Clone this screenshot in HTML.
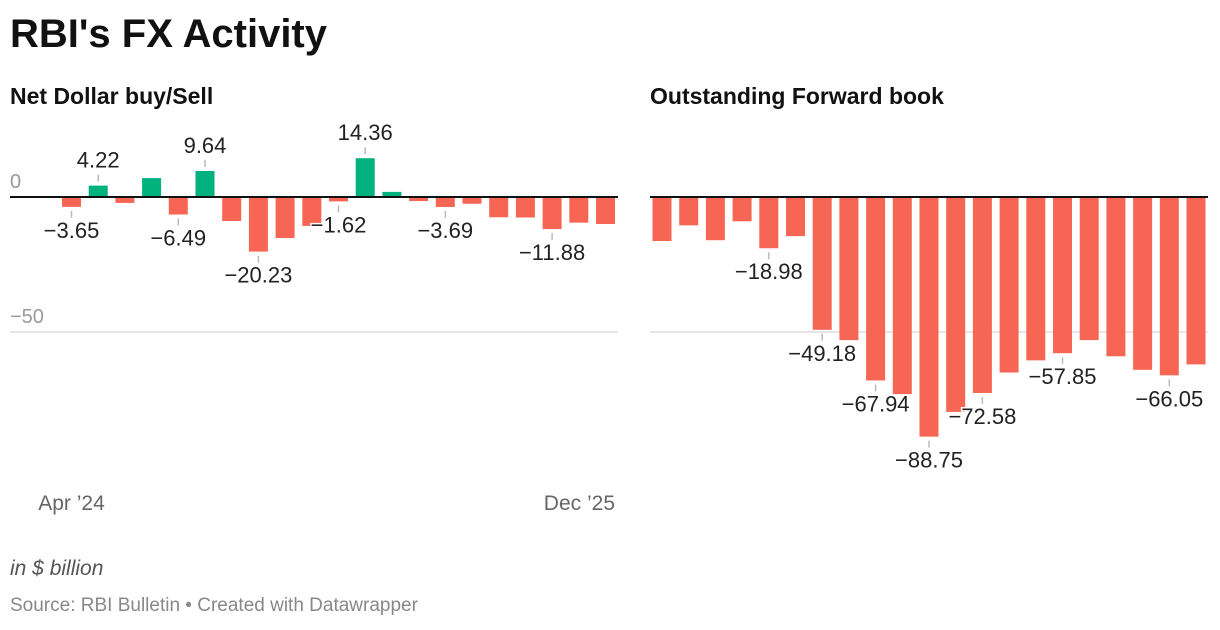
<!DOCTYPE html>
<html><head><meta charset="utf-8"><style>
body{margin:0;width:1220px;height:630px;background:#fff;font-family:"Liberation Sans",sans-serif;overflow:hidden;position:relative}
.t{position:absolute;margin:0}
</style></head><body>
<h1 class="t" style="left:10px;top:12px;font-size:40px;font-weight:bold;color:#111">RBI's FX Activity</h1>
<div class="t" style="left:10px;top:83px;font-size:23px;font-weight:bold;color:#111">Net Dollar buy/Sell</div>
<div class="t" style="left:650px;top:83px;font-size:23px;font-weight:bold;color:#111">Outstanding Forward book</div>
<div class="t" style="left:10px;top:557px;font-size:21px;font-style:italic;color:#555">in $ billion</div>
<div class="t" style="left:10px;top:595px;font-size:19px;color:#888">Source: RBI Bulletin • Created with Datawrapper</div>
<svg id="c" width="1220" height="630" style="position:absolute;left:0;top:0"></svg>
<script>
const months=["Apr '24","May '24","Jun '24","Jul '24","Aug '24","Sep '24","Oct '24","Nov '24","Dec '24","Jan '25","Feb '25","Mar '25","Apr '25","May '25","Jun '25","Jul '25","Aug '25","Sep '25","Oct '25","Nov '25","Dec '25"];
const netValues=[-3.65,4.22,-2.2,7.0,-6.49,9.64,-8.9,-20.23,-15.2,-10.7,-1.62,14.36,1.9,-1.5,-3.69,-2.5,-7.5,-7.6,-11.88,-9.5,-10];
const netLabeled=[0,1,4,5,7,10,11,14,18];
const fwdValues=[-16.3,-10.5,-16,-9,-18.98,-14.5,-49.18,-53,-67.94,-73,-88.75,-79.6,-72.58,-65,-60.5,-57.85,-53,-59,-64,-66.05,-62];
const fwdLabeled=[4,6,8,10,12,15,19];
const yTicks=[0,-50];
const xLabels=["Apr ’24","Dec ’25"];
const svg=document.getElementById('c');const NS='http://www.w3.org/2000/svg';
function mk(t,a,p){const e=document.createElementNS(NS,t);for(const k in a)e.setAttribute(k,a[k]);(p||svg).appendChild(e);return e;}
const y=v=>197-v*2.7;
function panel(x0,x1,c0,c1,vals,labeled,name,axisLabels){
  const n=vals.length,step=(c1-c0)/(n-1),bw=19;
  const xc=i=>c0+step*i;
  yTicks.forEach(t=>{if(t!==0){const l=mk('line',{x1:x0,x2:x1,y1:y(t),y2:y(t),stroke:'#ddd','stroke-width':1.5});
  
  }
  if(axisLabels){const tx=mk('text',{x:x0,y:y(t)-9,'font-size':20,fill:'#999'});tx.textContent=t===0?'0':'−'+Math.abs(t);
  
  }});
  vals.forEach((v,i)=>{const r=mk('rect',{x:xc(i)-bw/2,width:bw,y:Math.min(y(v),y(0)),height:Math.abs(y(v)-y(0)),fill:v>=0?'#01b27f':'#f76655'});
  
  });
  const z=mk('line',{x1:x0,x2:x1,y1:y(0),y2:y(0),stroke:'#111','stroke-width':2});
  
  
  labeled.forEach(i=>{const v=vals[i],e=y(v),pos=v>=0;
    mk('line',{x1:xc(i),x2:xc(i),y1:pos?e-4:e+4,y2:pos?e-11:e+11,stroke:'#bbb','stroke-width':1.5});
    const tx=mk('text',{x:xc(i),y:pos?e-18:e+31,'text-anchor':'middle','font-size':22,fill:'#222',stroke:'#fff','stroke-width':3,'paint-order':'stroke'});
    tx.textContent=(v<0?'−':'')+Math.abs(v).toFixed(2);
    
    });
  if(axisLabels){const a=mk('text',{x:xc(0),y:510,'text-anchor':'middle','font-size':21,fill:'#666'});a.textContent=xLabels[0];
  
  
  const b=mk('text',{x:x1-3,y:510,'text-anchor':'end','font-size':21,fill:'#666'});b.textContent=xLabels[1];
  
  }
}
panel(10,618,71.5,605.5,netValues,netLabeled,'net',true);
panel(650,1208,662,1196,fwdValues,fwdLabeled,'forward',false);
</script>
</body></html>
